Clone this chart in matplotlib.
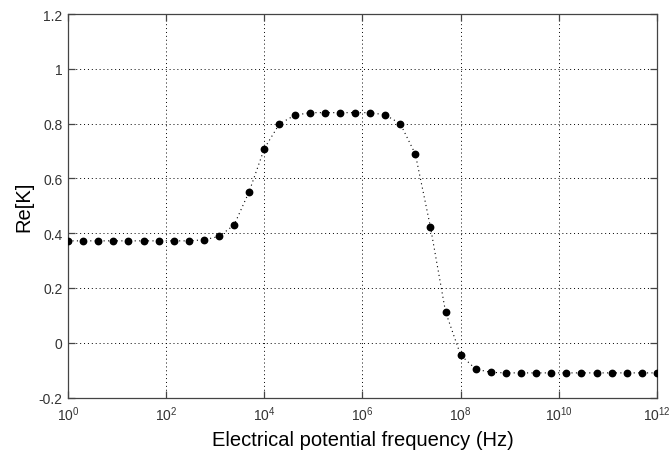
import numpy as np
import matplotlib
matplotlib.use("Agg")
import matplotlib.pyplot as plt
from matplotlib.ticker import FixedLocator, FixedFormatter

# Frequency sweep (Hz) and real part of the Clausius-Mossotti factor
freq = np.logspace(0, 12, 40)
re_k = [0.372, 0.372, 0.372, 0.372, 0.372, 0.372, 0.372, 0.372, 0.372, 0.376,
        0.388, 0.430, 0.552, 0.709, 0.799, 0.830, 0.840, 0.840, 0.840, 0.840,
        0.840, 0.832, 0.800, 0.689, 0.423, 0.113, -0.045, -0.096, -0.108, -0.110,
        -0.110, -0.110, -0.110, -0.110, -0.110, -0.110, -0.110, -0.110, -0.110, -0.110]

x_ticks = [1e0, 1e2, 1e4, 1e6, 1e8, 1e10, 1e12]
x_tick_labels = [r"$10^{0}$", r"$10^{2}$", r"$10^{4}$", r"$10^{6}$",
                 r"$10^{8}$", r"$10^{10}$", r"$10^{12}$"]
y_ticks = [-0.2, 0, 0.2, 0.4, 0.6, 0.8, 1.0, 1.2]
y_tick_labels = ["-0.2", "0", "0.2", "0.4", "0.6", "0.8", "1", "1.2"]

plt.rcParams["font.family"] = ["Liberation Sans", "DejaVu Sans"]
plt.rcParams["mathtext.fontset"] = "custom"
plt.rcParams["mathtext.rm"] = "Liberation Sans"
plt.rcParams["mathtext.it"] = "Liberation Sans"

fig = plt.figure(figsize=(6.7, 4.56), dpi=100)
ax = fig.add_axes([0.1015, 0.126, 0.879, 0.841])

ax.plot(freq, re_k, linestyle=(0, (1, 3)), color="black", linewidth=0.8,
        marker="o", markersize=4.6, markerfacecolor="black",
        markeredgecolor="black", zorder=3)

ax.set_xscale("log")
ax.set_xlim(1e0, 1e12)
ax.set_ylim(-0.2, 1.2)

ax.xaxis.set_major_locator(FixedLocator(x_ticks))
ax.xaxis.set_major_formatter(FixedFormatter(x_tick_labels))
ax.xaxis.set_minor_locator(FixedLocator([]))
ax.yaxis.set_major_locator(FixedLocator(y_ticks))
ax.yaxis.set_major_formatter(FixedFormatter(y_tick_labels))

ax.grid(True, which="major", color="black", linestyle=(0, (1, 3)), linewidth=0.7)

for s in ax.spines.values():
    s.set_color("#444444")
    s.set_linewidth(0.9)

ax.tick_params(axis="both", which="major", direction="in", length=5,
               width=0.9, color="#444444", top=True, right=True,
               labelsize=10, labelcolor="#333333")
ax.tick_params(axis="y", pad=4)
ax.tick_params(axis="x", pad=5)

ax.set_xlabel("Electrical potential frequency (Hz)", fontsize=14.5, labelpad=5)
ax.set_ylabel("Re[K]", fontsize=14.5, labelpad=4)

fig.savefig("out.png", dpi=100, facecolor="white")
